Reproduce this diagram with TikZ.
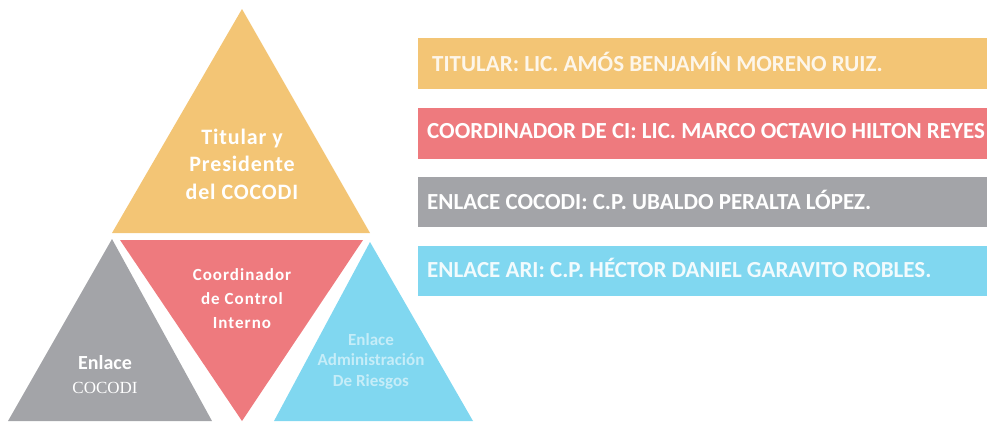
\documentclass[tikz,border=0pt]{standalone}
\usepackage{fontspec}
\setmainfont{Carlito}
\newfontfamily\cocodiserif{Liberation Serif}
\definecolor{naranja}{RGB}{243,197,117}
\definecolor{rojo}{RGB}{238,122,126}
\definecolor{gris}{RGB}{163,164,168}
\definecolor{celeste}{RGB}{128,215,240}

\begin{document}
\begin{tikzpicture}[x=1pt, y=-1pt,
  trilabel/.style={text=white, align=center, inner sep=0pt},
  barlabel/.style={anchor=base west, text=white, inner sep=0pt, font=\bfseries\fontsize{23}{26}\selectfont}]
  \useasboundingbox (0, 0) rectangle (987, 421);

  % triangulos
  \fill[naranja] (242, 9)   -- (370, 233) -- (112, 233) -- cycle;
  \fill[gris]    (112, 239) -- (212, 421) -- (8, 421)   -- cycle;
  \fill[rojo]    (120, 240) -- (363, 240) -- (242, 421) -- cycle;
  \fill[celeste] (370, 242) -- (473, 421) -- (274, 421) -- cycle;

  \node[trilabel, font=\bfseries\fontsize{22}{27.5}\selectfont\addfontfeature{LetterSpace=4}] (titular) at (242, 164) {Titular y\\Presidente\\del COCODI};
  \node[trilabel, font=\bfseries\fontsize{17}{24}\selectfont\addfontfeature{LetterSpace=6}]   (coord)   at (242, 299) {Coordinador\\de Control\\Interno};
  \node[trilabel, font=\fontsize{20}{24}\selectfont]                                          (enlace)  at (105, 375) {\bfseries Enlace\\{\cocodiserif\fontsize{17}{24}\selectfont COCODI}};
  \node[trilabel, text=white!55!celeste, font=\bfseries\fontsize{17}{20.5}\selectfont]        (ari)     at (371, 361) {Enlace\\Administración\\De Riesgos};

  % barras
  \fill[naranja] (418, 38)  rectangle (987, 89);
  \fill[rojo]    (418, 108) rectangle (987, 159);
  \fill[gris]    (418, 177) rectangle (987, 227);
  \fill[celeste] (418, 246) rectangle (987, 296);

  \node[barlabel, text=white!85!naranja] (btitular) at (432, 71)  {TITULAR: LIC. AMÓS BENJAMÍN MORENO RUIZ.};
  \node[barlabel]                        (bcoord)   at (427, 138) {COORDINADOR DE CI: LIC. MARCO OCTAVIO HILTON REYES};
  \node[barlabel]                        (benlace)  at (427, 209) {ENLACE COCODI: C.P. UBALDO PERALTA LÓPEZ.};
  \node[barlabel, text=white!90!celeste] (bari)     at (427, 277) {ENLACE ARI: C.P. HÉCTOR DANIEL GARAVITO ROBLES.};
\end{tikzpicture}
\end{document}
